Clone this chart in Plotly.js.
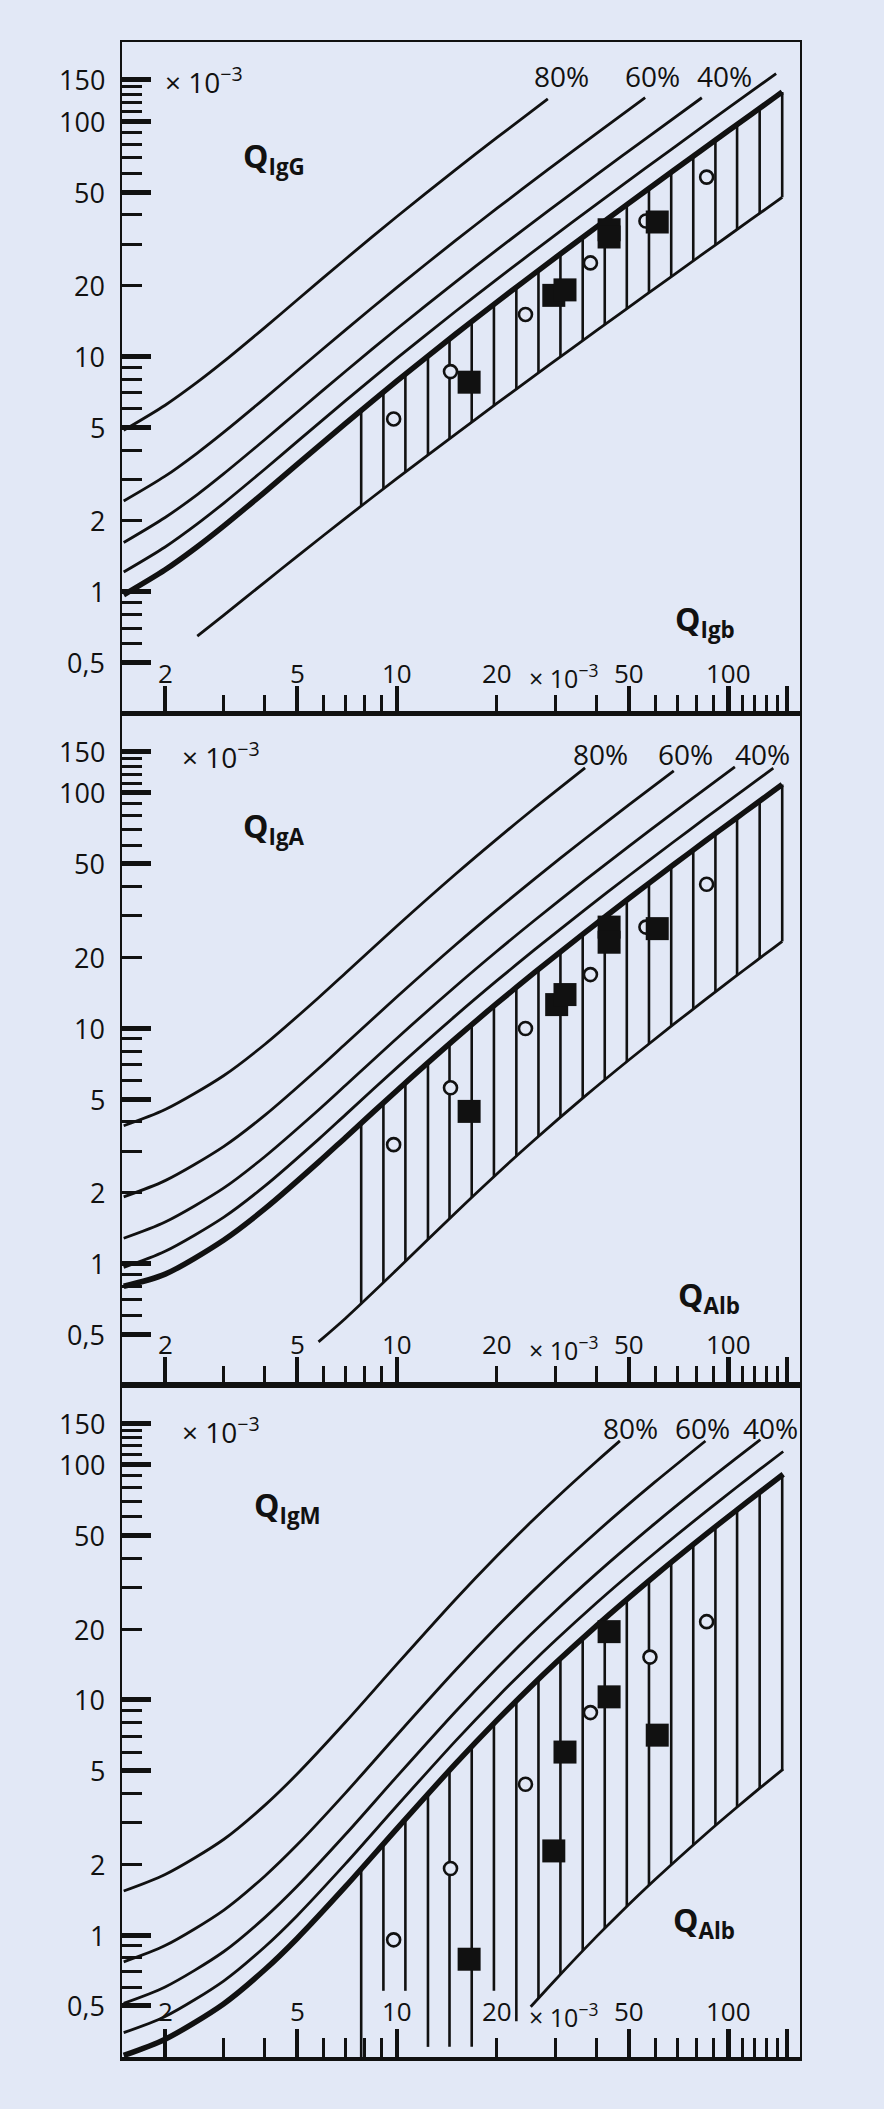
<!DOCTYPE html>
<html><head><meta charset="utf-8">
<script src="https://cdn.plot.ly/plotly-3.0.1.min.js"></script>
<style>html,body{margin:0;padding:0;background:#e2e8f6;}#chart{width:884px;height:2109px;}</style>
</head><body><div id="chart"></div>
<script>
// ---------- axis ticks / labels (Q values x 10^-3) ----------
const xMajor = [2, 5, 10, 50, 100, 150];
const xMinor = [3, 4, 6, 7, 8, 9, 20, 30, 40, 60, 70, 80, 90, 110, 120, 130, 140];
const yMajor = [0.5, 1, 5, 10, 50, 100, 150];
const yMinor = [0.6, 0.7, 0.8, 0.9, 2, 3, 4, 6, 7, 8, 9, 20, 30, 40, 60, 70, 80, 90, 110, 120, 130, 140];
const xLabelVals = [2, 5, 10, 20, 50, 100];
const xLabelText = ['2', '5', '10', '20', '50', '100'];
const yLabelVals = [150, 100, 50, 20, 10, 5, 2, 1, 0.5];
const yLabelText = ['150', '100', '50', '20', '10', '5', '2', '1', '0,5'];

// ---------- IgG panel ----------
const iggGrid = [1.5, 2, 2.5, 3, 4, 5, 7, 10, 15, 20, 28.5, 40, 56, 83, 100, 139, 145];
const igg80  = [4.86, 6.21, 7.78, 9.51, 13.31, 17.39, 25.99, 39.38, 62.18, 85.20, 124.5, null, null, null, null, null, null];
const igg60  = [2.43, 3.10, 3.89, 4.76, 6.66, 8.70, 12.99, 19.69, 31.09, 42.60, 62.26, 88.93, 126.1, null, null, null, null];
const igg40  = [1.62, 2.07, 2.59, 3.17, 4.44, 5.80, 8.66, 13.13, 20.73, 28.40, 41.51, 59.28, 84.05, 125.9, null, null, null];
const igg20  = [1.214, 1.551, 1.944, 2.378, 3.328, 4.348, 6.496, 9.844, 15.54, 21.30, 31.13, 44.46, 63.04, 94.40, 114.2, 159.5, null];
const iggLim = [0.971, 1.241, 1.555, 1.902, 2.662, 3.478, 5.197, 7.875, 12.44, 17.04, 24.90, 35.57, 50.43, 75.52, 91.33, 127.6, 133.2];
const iggLow = [null, null, 0.648, 0.794, 1.100, 1.415, 2.057, 3.033, 4.672, 6.317, 9.117, 12.91, 18.19, 27.09, 32.70, 45.57, 47.55];

// ---------- IgA panel ----------
const igaGrid = [1.5, 2, 3, 4, 5.8, 7, 10, 15, 20, 26, 36.9, 50, 68.3, 85, 104.4, 120, 136.3, 145];
const iga80  = [3.85, 4.51, 6.28, 8.55, 13.48, 17.17, 27.20, 45.13, 63.68, 86.29, 127.8, null, null, null, null, null, null, null];
const iga60  = [1.92, 2.25, 3.14, 4.27, 6.74, 8.59, 13.60, 22.57, 31.84, 43.15, 63.88, 88.94, 124.1, null, null, null, null, null];
const iga40  = [1.28, 1.50, 2.09, 2.85, 4.49, 5.72, 9.07, 15.04, 21.23, 28.76, 42.59, 59.30, 82.70, 104.1, 129.0, null, null, null];
const iga20  = [0.962, 1.126, 1.570, 2.136, 3.369, 4.293, 6.800, 11.28, 15.92, 21.57, 31.94, 44.47, 62.03, 78.07, 96.72, 111.7, 127.4, null];
const igaLim = [0.80, 0.901, 1.256, 1.709, 2.695, 3.434, 5.440, 9.026, 12.74, 17.26, 25.55, 35.58, 49.62, 62.45, 77.37, 89.37, 101.9, 108.6];
const igaLow = [null, null, null, null, 0.464, 0.585, 0.942, 1.640, 2.401, 3.356, 5.141, 7.325, 10.40, 13.22, 16.51, 19.15, 21.92, 23.39];

// ---------- IgM panel ----------
const igmGrid = [1.5, 2, 3, 4, 5, 7, 10, 15, 20, 25.3, 30, 40, 47, 60, 85.1, 105, 124.6, 146];
const igm80  = [1.54, 1.81, 2.55, 3.57, 4.84, 8.05, 14.19, 26.73, 40.89, 56.86, 71.49, 103.4, 126.2, null, null, null, null, null];
const igm60  = [0.770, 0.903, 1.275, 1.785, 2.420, 4.025, 7.095, 13.36, 20.45, 28.43, 35.75, 51.72, 63.09, 84.41, 126.0, null, null, null];
const igm40  = [0.513, 0.602, 0.850, 1.190, 1.613, 2.683, 4.730, 8.908, 13.63, 18.95, 23.83, 34.48, 42.06, 56.28, 83.98, 106.1, 127.8, null];
const igm20  = [0.385, 0.451, 0.638, 0.893, 1.210, 2.013, 3.548, 6.681, 10.22, 14.22, 17.87, 25.86, 31.54, 42.21, 62.98, 79.54, 95.88, 113.7];
const igmLim = [0.308, 0.361, 0.510, 0.714, 0.968, 1.610, 2.838, 5.345, 8.178, 11.37, 14.30, 20.69, 25.23, 33.77, 50.39, 63.63, 76.70, 91.00];
const igmLow = [null, null, null, null, null, null, null, null, null, 0.496, 0.645, 0.988, 1.240, 1.723, 2.686, 3.463, 4.234, 5.080];

// ---------- hatching (vertical lines of the reference range) ----------
const hatchX = [7.8, 9.1, 10.6, 12.4, 14.4, 16.8, 19.6, 22.9, 26.7, 31.1, 36.3, 42.3, 49.3, 57.5, 67.1, 78.2, 91.2, 106, 124, 145];
const iggHatchTop = [5.90, 7.06, 8.42, 10.06, 11.88, 14.09, 16.67, 19.72, 23.24, 27.31, 32.14, 37.71, 44.21, 51.82, 60.75, 71.06, 83.15, 96.91, 113.6, 133.2];
const iggHatchBot = [2.32, 2.74, 3.23, 3.82, 4.48, 5.26, 6.19, 7.27, 8.52, 9.97, 11.69, 13.67, 15.98, 18.68, 21.85, 25.51, 29.80, 34.68, 40.62, 47.55];
const igaHatchTop = [3.95, 4.82, 5.86, 7.14, 8.59, 10.35, 12.44, 14.92, 17.79, 21.13, 25.09, 29.68, 35.04, 41.33, 48.70, 57.23, 67.22, 78.60, 92.45, 108.6];
const igaHatchBot = [0.674, 0.829, 1.021, 1.266, 1.552, 1.909, 2.339, 2.859, 3.469, 4.186, 5.042, 6.038, 7.208, 8.584, 10.20, 12.07, 14.27, 16.78, 19.83, 23.39];
const igmHatchTop = [1.91, 2.44, 3.11, 3.99, 5.02, 6.34, 7.94, 9.91, 12.24, 14.99, 18.30, 22.18, 26.74, 32.12, 38.45, 45.81, 54.44, 64.30, 76.30, 90.33];
const igmHatchBot = [0.30, 0.58, 0.58, 0.335, 0.335, 0.335, 0.58, 0.43, 0.539, 0.682, 0.858, 1.070, 1.324, 1.629, 1.993, 2.419, 2.924, 3.503, 4.211, 5.041];

// ---------- patient values ----------
const iggCircX = [9.77, 14.5, 24.4, 38.3, 56.3, 85.8];
const iggCircY = [5.43, 8.63, 15.1, 25.0, 37.7, 57.9];
const iggSqX = [16.5, 29.7, 32.1, 43.6, 43.6, 60.9];
const iggSqY = [7.78, 18.2, 19.2, 34.6, 32.2, 37.3];
const igaCircX = [9.77, 14.5, 24.4, 38.3, 56.3, 85.8];
const igaCircY = [3.2, 5.58, 9.97, 16.9, 26.9, 40.9];
const igaSqX = [16.5, 30.3, 32.1, 43.6, 43.6, 60.9];
const igaSqY = [4.43, 12.6, 13.9, 26.9, 23.2, 26.5];
const igmCircX = [9.77, 14.5, 24.4, 38.3, 57.9, 85.8];
const igmCircY = [0.955, 1.92, 4.38, 8.83, 15.2, 21.5];
const igmSqX = [16.5, 29.7, 32.1, 43.6, 43.6, 60.9];
const igmSqY = [0.79, 2.28, 6.0, 19.5, 10.3, 7.08];

// ---------- texts ----------
const pctText = ['80%', '60%', '40%'];
const yTitles = ['<b>Q<sub>IgG</sub></b>', '<b>Q<sub>IgA</sub></b>', '<b>Q<sub>IgM</sub></b>'];
const xTitles = ['<b>Q<sub>Igb</sub></b>', '<b>Q<sub>Alb</sub></b>', '<b>Q<sub>Alb</sub></b>'];
const unitText = '× 10<sup>−3</sup>';

// ================= build =================
const BG = '#e2e8f6', INK = '#111111';
const L = 122, R = 800, T = 42, B = 2057, PH = (B - T) / 3;
const px = x => (x - L) / (R - L);
const py = y => 1 - (y - T) / (B - T);
const lg = Math.log10;

// label anchor positions in pixels, relative to each panel's top-left
const panels = [
  {grid: iggGrid, curves: [igg80, igg60, igg40, igg20], lim: iggLim, low: iggLow, ht: iggHatchTop, hb: iggHatchBot,
   cx: iggCircX, cy: iggCircY, sx: iggSqX, sy: iggSqY, xlab: 41,
   pct: [[561, 34], [652, 34], [724, 34]], unit: [163, 38], yt: [241, 116], xt: [673, 579]},
  {grid: igaGrid, curves: [iga80, iga60, iga40, iga20], lim: igaLim, low: igaLow, ht: igaHatchTop, hb: igaHatchBot,
   cx: igaCircX, cy: igaCircY, sx: igaSqX, sy: igaSqY, xlab: 41,
   pct: [[600, 40], [685, 40], [762, 40]], unit: [180, 42], yt: [241, 114], xt: [676, 583]},
  {grid: igmGrid, curves: [igm80, igm60, igm40, igm20], lim: igmLim, low: igmLow, ht: igmHatchTop, hb: igmHatchBot,
   cx: igmCircX, cy: igmCircY, sx: igmSqX, sy: igmSqY, xlab: 46,
   pct: [[630, 43], [702, 43], [770, 43]], unit: [180, 45], yt: [252, 122], xt: [671, 537]}
];

const traces = [];
const annotations = [];
const layout = {
  width: 884, height: 2109,
  margin: {l: L, r: 884 - R, t: T, b: 2109 - B, pad: 0},
  paper_bgcolor: BG, plot_bgcolor: BG,
  showlegend: false,
  font: {family: 'Open Sans, sans-serif', color: INK, size: 25},
  annotations: annotations
};

panels.forEach((p, i) => {
  const n = i === 0 ? '' : String(i + 1);
  const xa = 'x' + n, ya = 'y' + n;
  const top = T + i * PH, bottom = T + (i + 1) * PH;
  layout['xaxis' + n] = {
    type: 'log', range: [0.171, 2.215], anchor: ya, domain: [0, 1],
    showgrid: false, zeroline: false, showticklabels: false,
    ticks: 'inside', tickmode: 'array', tickvals: xMajor, ticklen: 28, tickwidth: 4.5, tickcolor: INK,
    minor: {tickmode: 'array', tickvals: xMinor, ticks: 'inside', ticklen: 19, tickwidth: 3, tickcolor: INK, showgrid: false},
    showline: true, mirror: true, linecolor: INK, linewidth: i === 2 ? 3.5 : 2.2
  };
  layout['yaxis' + n] = {
    type: 'log', range: [-0.518, 2.337], anchor: xa,
    domain: [1 - (i + 1) / 3, 1 - i / 3],
    showgrid: false, zeroline: false, showticklabels: false,
    ticks: 'inside', tickmode: 'array', tickvals: yMajor, ticklen: 29, tickwidth: 5, tickcolor: INK,
    minor: {tickmode: 'array', tickvals: yMinor, ticks: 'inside', ticklen: 20, tickwidth: 3, tickcolor: INK, showgrid: false},
    showline: true, mirror: true, linecolor: INK, linewidth: 2.2
  };

  // hatching
  const hx = [], hy = [];
  hatchX.forEach((v, k) => { hx.push(v, v, null); hy.push(p.hb[k], p.ht[k], null); });
  traces.push({x: hx, y: hy, xaxis: xa, yaxis: ya, mode: 'lines', line: {color: INK, width: 2.6}, hoverinfo: 'skip'});

  // percentage curves
  p.curves.forEach(c => traces.push({x: p.grid, y: c, xaxis: xa, yaxis: ya, mode: 'lines',
    line: {color: INK, width: 2.8, shape: 'spline', smoothing: 0.8}, hoverinfo: 'skip'}));
  traces.push({x: p.grid, y: p.low, xaxis: xa, yaxis: ya, mode: 'lines',
    line: {color: INK, width: 2.8, shape: 'spline', smoothing: 0.8}, hoverinfo: 'skip'});
  traces.push({x: p.grid, y: p.lim, xaxis: xa, yaxis: ya, mode: 'lines',
    line: {color: INK, width: 5.5, shape: 'spline', smoothing: 0.8}, hoverinfo: 'skip'});

  // patients
  traces.push({x: p.cx, y: p.cy, xaxis: xa, yaxis: ya, mode: 'markers',
    marker: {symbol: 'circle', size: 13, color: BG, line: {color: INK, width: 2.6}}});
  traces.push({x: p.sx, y: p.sy, xaxis: xa, yaxis: ya, mode: 'markers',
    marker: {symbol: 'square', size: 23, color: INK, line: {width: 0}}});

  // x tick labels inside the panel
  xLabelVals.forEach((v, k) => annotations.push({xref: xa, yref: 'paper', x: lg(v), y: py(bottom - p.xlab),
    text: xLabelText[k], showarrow: false, xanchor: 'center', yanchor: 'middle', font: {size: 26}}));
  annotations.push({xref: 'paper', yref: 'paper', x: px(563), y: py(bottom - p.xlab + 4), text: unitText,
    showarrow: false, xanchor: 'center', yanchor: 'middle', font: {size: 25}});
  // y tick labels
  yLabelVals.forEach((v, k) => annotations.push({xref: 'paper', yref: ya, x: px(107), y: lg(v),
    text: yLabelText[k], showarrow: false, xanchor: 'right', yanchor: 'middle', font: {size: 27}}));
  // curve labels
  pctText.forEach((t, k) => annotations.push({xref: 'paper', yref: 'paper', x: px(p.pct[k][0]), y: py(top + p.pct[k][1]),
    text: t, showarrow: false, xanchor: 'center', yanchor: 'middle', font: {size: 28}}));
  annotations.push({xref: 'paper', yref: 'paper', x: px(p.unit[0]), y: py(top + p.unit[1]), text: unitText,
    showarrow: false, xanchor: 'left', yanchor: 'middle', font: {size: 28}});
  annotations.push({xref: 'paper', yref: 'paper', x: px(p.yt[0]), y: py(top + p.yt[1]), text: yTitles[i],
    showarrow: false, xanchor: 'left', yanchor: 'middle', font: {size: 32}});
  annotations.push({xref: 'paper', yref: 'paper', x: px(p.xt[0]), y: py(top + p.xt[1]), text: xTitles[i],
    showarrow: false, xanchor: 'left', yanchor: 'middle', font: {size: 32}});
});

Plotly.newPlot('chart', traces, layout, {staticPlot: true, displayModeBar: false});
</script></body></html>
